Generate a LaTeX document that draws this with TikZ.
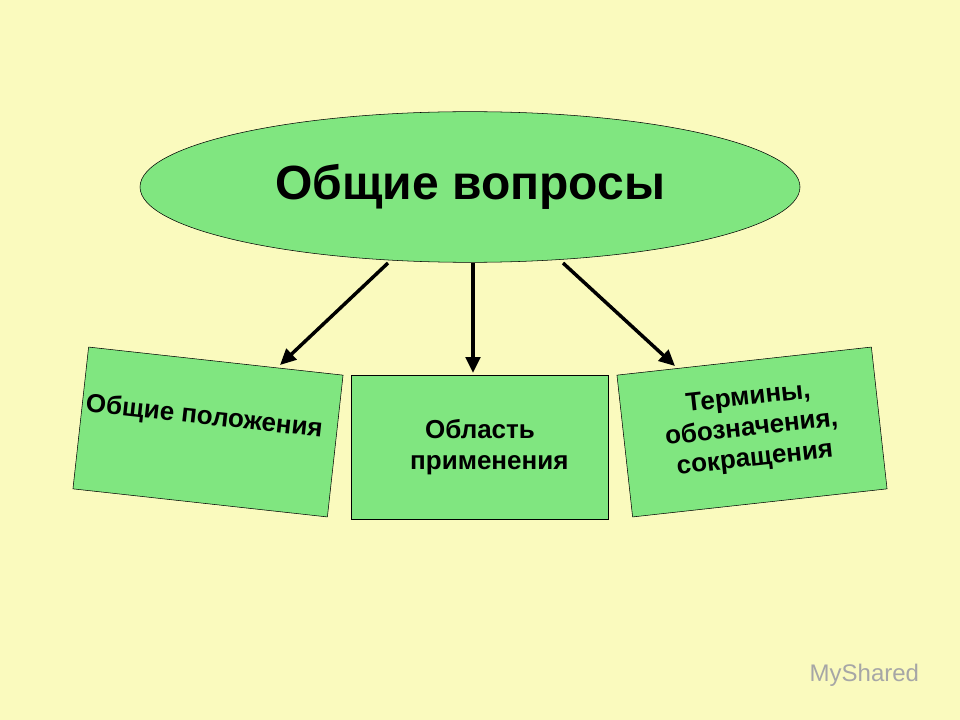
\documentclass[tikz,border=0pt]{standalone}
\usepackage{fontspec}
\setmainfont{Liberation Sans}
\usetikzlibrary{shapes.geometric,arrows.meta}
\definecolor{bg}{RGB}{250,250,190}
\definecolor{gr}{RGB}{128,230,128}
\begin{document}
\begin{tikzpicture}[x=0.75pt,y=-0.75pt,
  box/.style={draw=black,fill=gr,minimum width=192pt,minimum height=107pt,inner sep=0pt,align=center,font=\bfseries\fontsize{19.5}{23}\selectfont},
  arr/.style={-{Triangle[length=12pt,width=11pt]},line width=2.6pt}]
\fill[bg] (0,0) rectangle (960,720);
\useasboundingbox (0,0) rectangle (960,720);
\node[ellipse,draw=black,fill=gr,minimum width=495pt,minimum height=113pt,font=\bfseries\fontsize{36}{40}\selectfont] (top) at (470,187) {Общие вопросы};
\node[box,rotate=-6.3] (l) at (208,432) {\hspace*{-8pt}Общие положения\\[2pt]};
\node[box,minimum width=193pt,minimum height=108pt] (m) at (480,447) {Область\\ \hspace*{14pt}применения};
\node[box,rotate=6.3] (r) at (752,432) {\\[-14pt]Термины,\\ обозначения,\\ сокращения};
\coordinate (a1) at (388,263); \coordinate (b1) at (280,365);
\coordinate (a2) at (473,263); \coordinate (b2) at (473,373);
\coordinate (a3) at (563,263); \coordinate (b3) at (675,366);
\draw[arr] (a1) -- (b1);
\draw[arr] (a2) -- (b2);
\draw[arr] (a3) -- (b3);
\node[text=gray!70,font=\fontsize{18}{20}\selectfont,anchor=west] (wm) at (805,675) {MyShared};
\end{tikzpicture}
\end{document}
